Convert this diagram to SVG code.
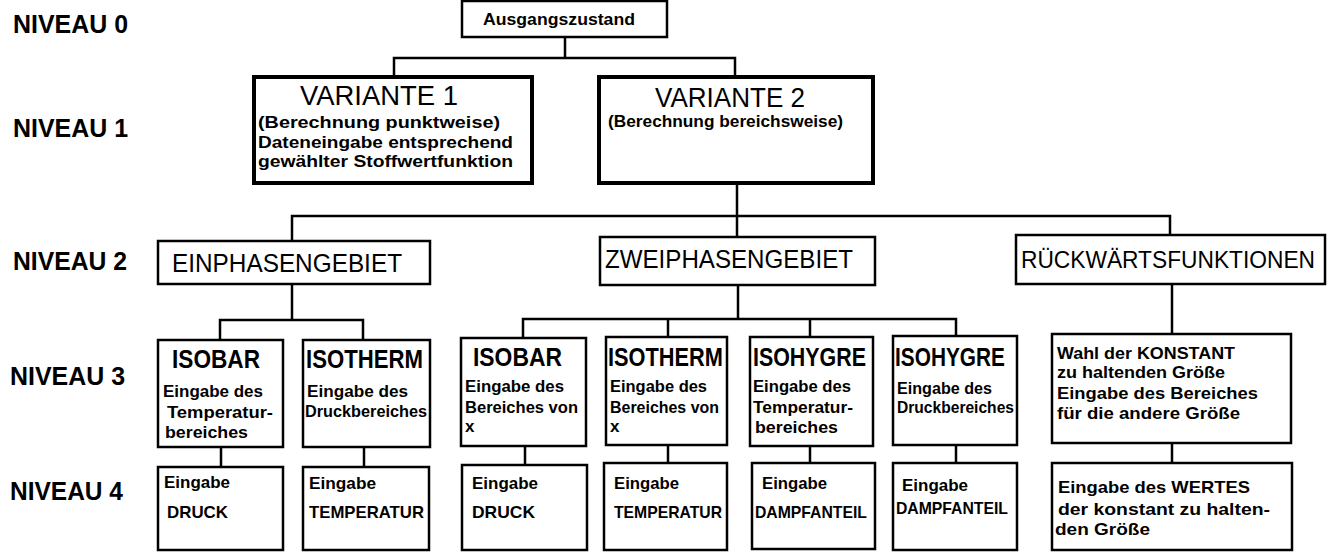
<svg xmlns="http://www.w3.org/2000/svg" width="1331" height="553" viewBox="0 0 1331 553">
<style>
  .bg{fill:#ffffff}
  .box{fill:#ffffff;stroke:#000;stroke-width:2.5}
  .thick{fill:#ffffff;stroke:#000;stroke-width:4}
  .ln{stroke:#000;stroke-width:2.5;fill:none;stroke-linecap:square}
  text{font-family:"Liberation Sans","DejaVu Sans",Arial,sans-serif;fill:#000}
  .lvl{font-size:25px;font-weight:bold}
  .big{font-size:28px}
  .t2{font-size:25px}
  .t2n{font-size:23px}
  .iso{font-size:25px;font-weight:bold}
  .sm{font-size:17px;font-weight:bold}
</style>
<rect class="bg" x="0" y="0" width="1331" height="553"/>

<g id="levels">
  <text class="lvl" x="13" y="33" textLength="115" lengthAdjust="spacingAndGlyphs">NIVEAU 0</text>
  <text class="lvl" x="13" y="137" textLength="115" lengthAdjust="spacingAndGlyphs">NIVEAU 1</text>
  <text class="lvl" x="13" y="270" textLength="114" lengthAdjust="spacingAndGlyphs">NIVEAU 2</text>
  <text class="lvl" x="10" y="385" textLength="115" lengthAdjust="spacingAndGlyphs">NIVEAU 3</text>
  <text class="lvl" x="10" y="500" textLength="113" lengthAdjust="spacingAndGlyphs">NIVEAU 4</text>
</g>

<g id="connectors">
  <path class="ln" d="M565 37V58M394 58H735M394 58V77M735 58V77"/>
  <path class="ln" d="M737 183V216M292 216H1170M292 216V241M737 216V237M1170 216V235"/>
  <path class="ln" d="M292 284V320M220 320H363M220 320V340M363 320V340M221 447V467M364 447V467"/>
  <path class="ln" d="M738 285V319M523 319H956M523 319V338M668 319V337M810 319V337M956 319V336"/>
  <path class="ln" d="M525 446V465M668 445V463M810 446V463M956 445V463"/>
  <path class="ln" d="M1172 284V334M1172 443V463"/>
</g>

<g id="n0">
  <rect class="box" x="462" y="1" width="205" height="36"/>
  <text class="sm" x="483" y="25" textLength="152" lengthAdjust="spacingAndGlyphs">Ausgangszustand</text>
</g>

<g id="v1">
  <rect class="thick" x="254" y="77" width="278" height="106"/>
  <text class="big" x="300" y="105" textLength="158" lengthAdjust="spacingAndGlyphs">VARIANTE 1</text>
  <text class="sm" x="258" y="128" textLength="242" lengthAdjust="spacingAndGlyphs">(Berechnung punktweise)</text>
  <text class="sm" x="258" y="148" textLength="255" lengthAdjust="spacingAndGlyphs">Dateneingabe entsprechend</text>
  <text class="sm" x="258" y="167" textLength="255" lengthAdjust="spacingAndGlyphs">gewählter Stoffwertfunktion</text>
</g>

<g id="v2">
  <rect class="thick" x="599" y="77" width="274" height="106"/>
  <text class="big" x="655" y="107" textLength="150" lengthAdjust="spacingAndGlyphs">VARIANTE 2</text>
  <text class="sm" x="608" y="127" textLength="235" lengthAdjust="spacingAndGlyphs">(Berechnung bereichsweise)</text>
</g>

<g id="einphasen">
  <rect class="box" x="158" y="241" width="272" height="43"/>
  <text class="t2" x="172" y="272" textLength="230" lengthAdjust="spacingAndGlyphs">EINPHASENGEBIET</text>
</g>

<g id="zweiphasen">
  <rect class="box" x="600" y="237" width="275" height="48"/>
  <text class="t2" x="605" y="268" textLength="248" lengthAdjust="spacingAndGlyphs">ZWEIPHASENGEBIET</text>
</g>

<g id="rueckwaerts">
  <rect class="box" x="1016" y="235" width="309" height="49"/>
  <text class="t2n" x="1021" y="268" textLength="294" lengthAdjust="spacingAndGlyphs">RÜCKWÄRTSFUNKTIONEN</text>
</g>

<g id="isobar1">
  <rect class="box" x="158" y="340" width="125" height="107"/>
  <text class="iso" x="172" y="368" textLength="88" lengthAdjust="spacingAndGlyphs">ISOBAR</text>
  <text class="sm" x="163" y="397" textLength="100" lengthAdjust="spacingAndGlyphs">Eingabe des</text>
  <text class="sm" x="167" y="418" textLength="106" lengthAdjust="spacingAndGlyphs">Temperatur-</text>
  <text class="sm" x="165" y="438" textLength="83" lengthAdjust="spacingAndGlyphs">bereiches</text>
</g>

<g id="isotherm1">
  <rect class="box" x="303" y="340" width="127" height="107"/>
  <text class="iso" x="306" y="368" textLength="117" lengthAdjust="spacingAndGlyphs">ISOTHERM</text>
  <text class="sm" x="307" y="397" textLength="101" lengthAdjust="spacingAndGlyphs">Eingabe des</text>
  <text class="sm" x="305" y="417" textLength="122" lengthAdjust="spacingAndGlyphs">Druckbereiches</text>
</g>

<g id="isobar2">
  <rect class="box" x="461" y="338" width="125" height="108"/>
  <text class="iso" x="473" y="366" textLength="89" lengthAdjust="spacingAndGlyphs">ISOBAR</text>
  <text class="sm" x="465" y="392" textLength="99" lengthAdjust="spacingAndGlyphs">Eingabe des</text>
  <text class="sm" x="465" y="413" textLength="113" lengthAdjust="spacingAndGlyphs">Bereiches von</text>
  <text class="sm" x="465" y="432">x</text>
</g>

<g id="isotherm2">
  <rect class="box" x="606" y="337" width="121" height="108"/>
  <text class="iso" x="608" y="366" textLength="115" lengthAdjust="spacingAndGlyphs">ISOTHERM</text>
  <text class="sm" x="610" y="392" textLength="97" lengthAdjust="spacingAndGlyphs">Eingabe des</text>
  <text class="sm" x="610" y="413" textLength="109" lengthAdjust="spacingAndGlyphs">Bereiches von</text>
  <text class="sm" x="610" y="432">x</text>
</g>

<g id="isohygre1">
  <rect class="box" x="750" y="337" width="123" height="109"/>
  <text class="iso" x="753" y="366" textLength="113" lengthAdjust="spacingAndGlyphs">ISOHYGRE</text>
  <text class="sm" x="753" y="392" textLength="98" lengthAdjust="spacingAndGlyphs">Eingabe des</text>
  <text class="sm" x="753" y="413" textLength="100" lengthAdjust="spacingAndGlyphs">Temperatur-</text>
  <text class="sm" x="755" y="433" textLength="83" lengthAdjust="spacingAndGlyphs">bereiches</text>
</g>

<g id="isohygre2">
  <rect class="box" x="893" y="336" width="124" height="109"/>
  <text class="iso" x="895" y="366" textLength="110" lengthAdjust="spacingAndGlyphs">ISOHYGRE</text>
  <text class="sm" x="897" y="394" textLength="95" lengthAdjust="spacingAndGlyphs">Eingabe des</text>
  <text class="sm" x="897" y="413" textLength="117" lengthAdjust="spacingAndGlyphs">Druckbereiches</text>
</g>

<g id="wahl">
  <rect class="box" x="1052" y="334" width="239" height="109"/>
  <text class="sm" x="1057" y="359" textLength="178" lengthAdjust="spacingAndGlyphs">Wahl der KONSTANT</text>
  <text class="sm" x="1057" y="378" textLength="168" lengthAdjust="spacingAndGlyphs">zu haltenden Größe</text>
  <text class="sm" x="1057" y="399" textLength="201" lengthAdjust="spacingAndGlyphs">Eingabe des Bereiches</text>
  <text class="sm" x="1057" y="419" textLength="183" lengthAdjust="spacingAndGlyphs">für die andere Größe</text>
</g>

<g id="druck1">
  <rect class="box" x="158" y="467" width="125" height="83"/>
  <text class="sm" x="164" y="488" textLength="66" lengthAdjust="spacingAndGlyphs">Eingabe</text>
  <text class="sm" x="167" y="518" textLength="61" lengthAdjust="spacingAndGlyphs">DRUCK</text>
</g>

<g id="temperatur1">
  <rect class="box" x="303" y="467" width="126" height="83"/>
  <text class="sm" x="309" y="489" textLength="67" lengthAdjust="spacingAndGlyphs">Eingabe</text>
  <text class="sm" x="309" y="518" textLength="115" lengthAdjust="spacingAndGlyphs">TEMPERATUR</text>
</g>

<g id="druck2">
  <rect class="box" x="462" y="465" width="125" height="85"/>
  <text class="sm" x="472" y="489" textLength="66" lengthAdjust="spacingAndGlyphs">Eingabe</text>
  <text class="sm" x="472" y="518" textLength="63" lengthAdjust="spacingAndGlyphs">DRUCK</text>
</g>

<g id="temperatur2">
  <rect class="box" x="604" y="463" width="123" height="87"/>
  <text class="sm" x="614" y="489" textLength="65" lengthAdjust="spacingAndGlyphs">Eingabe</text>
  <text class="sm" x="614" y="518" textLength="108" lengthAdjust="spacingAndGlyphs">TEMPERATUR</text>
</g>

<g id="dampf1">
  <rect class="box" x="752" y="463" width="123" height="86"/>
  <text class="sm" x="762" y="489" textLength="65" lengthAdjust="spacingAndGlyphs">Eingabe</text>
  <text class="sm" x="755" y="518" textLength="112" lengthAdjust="spacingAndGlyphs">DAMPFANTEIL</text>
</g>

<g id="dampf2">
  <rect class="box" x="893" y="463" width="124" height="87"/>
  <text class="sm" x="902" y="491" textLength="66" lengthAdjust="spacingAndGlyphs">Eingabe</text>
  <text class="sm" x="896" y="514" textLength="112" lengthAdjust="spacingAndGlyphs">DAMPFANTEIL</text>
</g>

<g id="wertes">
  <rect class="box" x="1052" y="463" width="240" height="87"/>
  <text class="sm" x="1058" y="493" textLength="192" lengthAdjust="spacingAndGlyphs">Eingabe des WERTES</text>
  <text class="sm" x="1058" y="515" textLength="212" lengthAdjust="spacingAndGlyphs">der konstant zu halten-</text>
  <text class="sm" x="1055" y="535" textLength="95" lengthAdjust="spacingAndGlyphs">den Größe</text>
</g>
</svg>
